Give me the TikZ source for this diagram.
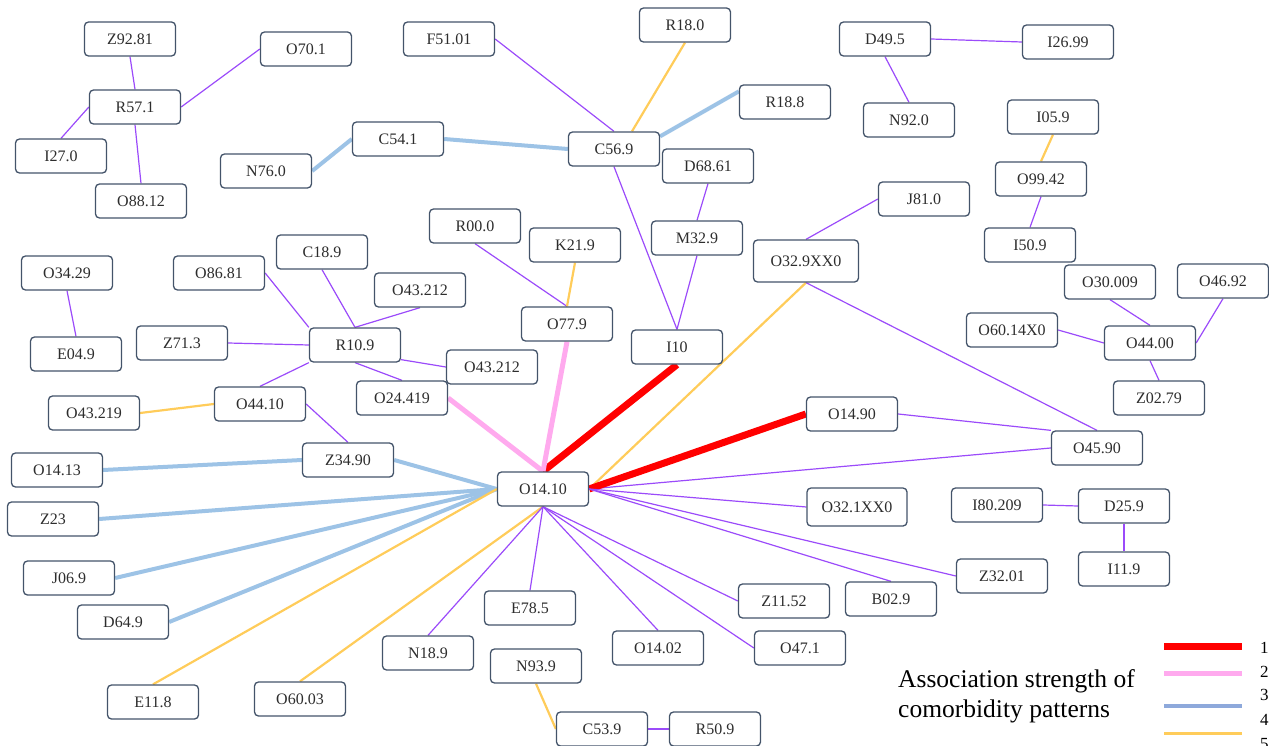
\documentclass[tikz,border=0pt]{standalone}
\usepackage{fontspec}
\setmainfont{Liberation Serif}
\usetikzlibrary{backgrounds}
\definecolor{purp}{RGB}{155,75,250}
\definecolor{lnred}{RGB}{255,0,0}
\definecolor{lnpink}{RGB}{255,170,238}
\definecolor{lnblue}{RGB}{157,195,230}
\definecolor{legblue}{RGB}{142,169,219}
\definecolor{lnyellow}{RGB}{255,204,90}
\definecolor{nodeborder}{RGB}{68,84,106}
\definecolor{textgray}{RGB}{45,45,45}
\begin{document}
\begin{tikzpicture}[x=1pt,y=-1pt,
  box/.style={draw=nodeborder, line width=1.3pt, rounded corners=4pt, fill=white,
    minimum width=91pt, minimum height=34pt, inner sep=0pt,
    font=\fontsize{16}{19}\selectfont, text=textgray},
  lpurple/.style={draw=purp, line width=1.2pt},
  lred/.style={draw=lnred, line width=7pt},
  lpink/.style={draw=lnpink, line width=5pt},
  lblue/.style={draw=lnblue, line width=4pt},
  lyellow/.style={draw=lnyellow, line width=2.2pt},
  legtext/.style={font=\fontsize{25.5}{30}\selectfont, text=black, inner sep=0pt},
  legnum/.style={font=\fontsize{17}{20}\selectfont, text=black, inner sep=0pt}
]
\useasboundingbox (0,0) rectangle (1269,746);
\clip (0,0) rectangle (1269,746);

% nodes
\node[box] (Z9281) at (130,39) {Z92.81};
\node[box] (O701) at (306,49) {O70.1};
\node[box] (R571) at (135,107) {R57.1};
\node[box] (I270) at (61,156) {I27.0};
\node[box] (O8812) at (141,201) {O88.12};
\node[box] (N760) at (266,171) {N76.0};
\node[box] (C541) at (398,139) {C54.1};
\node[box] (F5101) at (449,39) {F51.01};
\node[box] (R180) at (685,25) {R18.0};
\node[box] (R188) at (785,102) {R18.8};
\node[box] (C569) at (614,149) {C56.9};
\node[box] (D6861) at (708,166) {D68.61};
\node[box] (D495) at (885,39) {D49.5};
\node[box] (I2699) at (1068,42) {I26.99};
\node[box] (N920) at (909,120) {N92.0};
\node[box] (I059) at (1053,117) {I05.9};
\node[box] (O9942) at (1041,179) {O99.42};
\node[box] (J810) at (924,199) {J81.0};
\node[box] (I509) at (1030,245) {I50.9};
\node[box] (O30009) at (1110,282) {O30.009};
\node[box] (O4692) at (1223,281) {O46.92};
\node[box] (O3429) at (67,273) {O34.29};
\node[box] (E049) at (76,354) {E04.9};
\node[box] (O8681) at (219,273) {O86.81};
\node[box] (C189) at (322,252) {C18.9};
\node[box] (O43212a) at (420,290) {O43.212};
\node[box] (Z713) at (182,343) {Z71.3};
\node[box] (R109) at (355,345) {R10.9};
\node[box] (O43212b) at (492,367) {O43.212};
\node[box] (O24419) at (402,398) {O24.419};
\node[box] (O43219) at (94,413) {O43.219};
\node[box] (O4410) at (260,404) {O44.10};
\node[box] (Z3490) at (348,460) {Z34.90};
\node[box] (R000) at (475,226) {R00.0};
\node[box] (K219) at (575,245) {K21.9};
\node[box] (O779) at (567,324) {O77.9};
\node[box] (M329) at (697,238) {M32.9};
\node[box, minimum width=105pt, minimum height=42pt] (O329) at (806,261) {O32.9XX0};
\node[box] (I10) at (677,347) {I10};
\node[box] (O1490) at (852,414) {O14.90};
\node[box] (O6014) at (1012,330) {O60.14X0};
\node[box] (O4400) at (1150,343) {O44.00};
\node[box] (Z0279) at (1159,398) {Z02.79};
\node[box] (O4590) at (1097,448) {O45.90};
\node[box, minimum width=100pt, minimum height=38pt] (O321) at (857,507) {O32.1XX0};
\node[box] (I80209) at (997,505) {I80.209};
\node[box] (D259) at (1124,506) {D25.9};
\node[box] (I119) at (1124,569) {I11.9};
\node[box] (Z3201) at (1002,576) {Z32.01};
\node[box] (O1413) at (57,470) {O14.13};
\node[box] (Z23) at (53,519) {Z23};
\node[box] (J069) at (69,578) {J06.9};
\node[box] (D649) at (123,622) {D64.9};
\node[box] (E118) at (153,702) {E11.8};
\node[box] (O6003) at (300,699) {O60.03};
\node[box] (O1410) at (543,489) {O14.10};
\node[box] (E785) at (530,608) {E78.5};
\node[box] (N189) at (428,653) {N18.9};
\node[box] (N939) at (536,666) {N93.9};
\node[box] (C539) at (602,729) {C53.9};
\node[box] (R509) at (715,729) {R50.9};
\node[box] (O1402) at (658,648) {O14.02};
\node[box] (Z1152) at (784,601) {Z11.52};
\node[box] (O471) at (800,648) {O47.1};
\node[box] (B029) at (891,599) {B02.9};

% edges
\begin{scope}[on background layer]
\draw[lpurple] (Z9281.south) -- (R571.north);
\draw[lpurple] (R571.east) -- (O701.west);
\draw[lpurple] (R571.west) -- (I270.north);
\draw[lpurple] (R571.south) -- (O8812.north);
\draw[lblue] (N760.east) -- (C541.west);
\draw[lblue] (C541.east) -- (C569.west);
\draw[lpurple] (F5101.east) -- (C569.north);
\draw[lyellow] (R180.south) -- ([xshift=18pt]C569.north);
\draw[lblue] ([yshift=-7pt]R188.north west) -- ([yshift=-5pt]C569.north east);
\draw[lpurple] (C569.south) -- (I10.north);
\draw[lpurple] (D6861.south) -- (M329.north);
\draw[lpurple] (M329.south) -- (I10.north);
\draw[lpurple] (D495.east) -- (I2699.west);
\draw[lpurple] (D495.south) -- (N920.north);
\draw[lyellow] (I059.south) -- (O9942.north);
\draw[lpurple] (O9942.south) -- (I509.north);
\draw[lpurple] (J810.west) -- (O329.north);
\draw[lyellow] (O329.south) -- (O1410.east);
\draw[lpurple] (O329.south) -- (O4590.north);
\draw[lpurple] (O30009.south) -- (O4400.north);
\draw[lpurple] (O4692.south) -- (O4400.east);
\draw[lpurple] (O6014.east) -- (O4400.west);
\draw[lpurple] (O4400.south) -- (Z0279.north);
\draw[lpurple] (O1490.east) -- (O4590.north west);
\draw[lpurple] (O4590.west) -- (O1410.east);
\draw[lred] (O1490.west) -- (O1410.east);
\draw[lred] (I10.south) -- (O1410.north);
\draw[lpink] (O779.south) -- (O1410.north);
\draw[lpink] (O24419.east) -- (O1410.north);
\draw[lpurple] (R000.south) -- (O779.north);
\draw[lyellow] (K219.south) -- (O779.north);
\draw[lpurple] (O3429.south) -- (E049.north);
\draw[lpurple] (O8681.east) -- (R109.north west);
\draw[lpurple] (C189.south) -- (R109.north);
\draw[lpurple] (O43212a.south) -- (R109.north);
\draw[lpurple] (Z713.east) -- (R109.west);
\draw[lpurple] ([yshift=3pt]R109.south east) -- (O43212b.west);
\draw[lpurple] (R109.south) -- (O24419.north);
\draw[lpurple] (R109.south west) -- (O4410.north);
\draw[lyellow] (O43219.east) -- (O4410.west);
\draw[lpurple] (O4410.east) -- (Z3490.north);
\draw[lblue] (O1413.east) -- (Z3490.west);
\draw[lblue] (Z3490.east) -- (O1410.west);
\draw[lblue] (Z23.east) -- (O1410.west);
\draw[lblue] (J069.east) -- (O1410.west);
\draw[lblue] (D649.east) -- (O1410.west);
\draw[lyellow] (E118.north) -- (O1410.west);
\draw[lyellow] (O6003.north) -- (O1410.south);
\draw[lpurple] (N189.north) -- (O1410.south);
\draw[lpurple] (E785.north) -- (O1410.south);
\draw[lpurple] (O1402.north) -- (O1410.south);
\draw[lpurple] (O471.west) -- (O1410.south);
\draw[lpurple] (Z1152.west) -- (O1410.south);
\draw[lpurple] (B029.north) -- (O1410.east);
\draw[lpurple] (Z3201.west) -- (O1410.east);
\draw[lpurple] (O321.west) -- (O1410.east);
\draw[lyellow] (N939.south) -- (C539.west);
\draw[lpurple] (C539.east) -- (R509.west);
\draw[lpurple] (I80209.east) -- (D259.west);
\draw[lpurple] (D259.south) -- (I119.north);
\end{scope}

% legend
\node[legtext, anchor=base west] (legA) at (898,687) {Association strength of};
\node[legtext, anchor=base west] (legB) at (898,717) {comorbidity patterns};
\coordinate (l1a) at (1164,646); \coordinate (l1b) at (1242,646);
\coordinate (l2a) at (1164,673); \coordinate (l2b) at (1242,673);
\coordinate (l3a) at (1164,706); \coordinate (l3b) at (1242,706);
\coordinate (l4a) at (1164,733); \coordinate (l4b) at (1242,733);
\draw[draw=lnred, line width=7pt] (l1a) -- (l1b);
\draw[draw=lnpink, line width=5pt] (l2a) -- (l2b);
\draw[draw=legblue, line width=3.5pt] (l3a) -- (l3b);
\draw[draw=lnyellow, line width=3pt] (l4a) -- (l4b);
\node[legnum, anchor=base west] (n1) at (1260,653) {1};
\node[legnum, anchor=base west] (n2) at (1260,677) {2};
\node[legnum, anchor=base west] (n3) at (1260,700) {3};
\node[legnum, anchor=base west] (n4) at (1260,725) {4};
\node[legnum, anchor=base west] (n5) at (1260,749) {5};
\end{tikzpicture}
\end{document}
